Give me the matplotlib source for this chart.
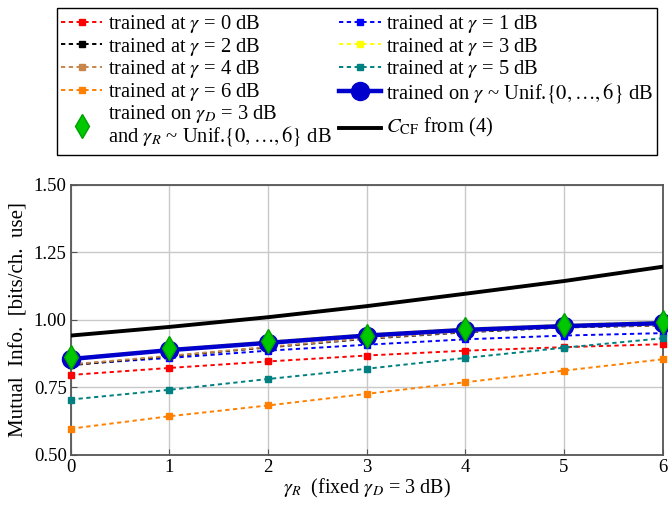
import matplotlib
matplotlib.use("Agg")
import matplotlib.pyplot as plt
import numpy as np

plt.rcParams['font.family'] = 'serif'
plt.rcParams['font.serif'] = ['Liberation Serif', 'DejaVu Serif']
plt.rcParams['mathtext.fontset'] = 'stix'

# valeurs
gamma_r = [0, 1, 2, 3, 4, 5, 6]
mi_g0 = [0.796, 0.822, 0.846, 0.868, 0.886, 0.899, 0.910]
mi_g1 = [0.835, 0.859, 0.886, 0.908, 0.928, 0.942, 0.951]
mi_g2 = [0.832, 0.865, 0.898, 0.930, 0.954, 0.972, 0.979]
mi_g3 = [0.858, 0.892, 0.920, 0.947, 0.968, 0.982, 0.994]
mi_g4 = [0.835, 0.867, 0.900, 0.932, 0.956, 0.974, 0.980]
mi_g5 = [0.705, 0.741, 0.781, 0.819, 0.859, 0.897, 0.932]
mi_g6 = [0.597, 0.643, 0.683, 0.726, 0.769, 0.812, 0.854]
mi_unif = [0.855, 0.888, 0.915, 0.942, 0.963, 0.977, 0.988]
mi_diam = [0.863, 0.895, 0.923, 0.942, 0.965, 0.982, 0.993]
c_cf = [0.942, 0.974, 1.010, 1.051, 1.097, 1.144, 1.197]

series = [
    (mi_g0, '#ff0000', 'trained at $\\gamma$ = 0 dB'),
    (mi_g1, '#0000ff', 'trained at $\\gamma$ = 1 dB'),
    (mi_g2, '#000000', 'trained at $\\gamma$ = 2 dB'),
    (mi_g3, '#ffff00', 'trained at $\\gamma$ = 3 dB'),
    (mi_g4, '#c8864a', 'trained at $\\gamma$ = 4 dB'),
    (mi_g5, '#008080', 'trained at $\\gamma$ = 5 dB'),
    (mi_g6, '#ff8000', 'trained at $\\gamma$ = 6 dB'),
]

fig = plt.figure(figsize=(6.68, 5.24), dpi=100)
ax = fig.add_axes([0.106, 0.132, 0.886, 0.515])

h = {}
for vals, col, lab in series:
    l, = ax.plot(gamma_r, vals, color=col, ls=(0, (2.2, 1.8)), lw=1.4,
                 marker='s', ms=5, label=lab, clip_on=False, zorder=3)
    h[lab] = l

l_cf, = ax.plot(gamma_r, c_cf, color='black', lw=2.8, label='$C_{\\mathrm{CF}}$ from (4)', zorder=4)
l_unif, = ax.plot(gamma_r, mi_unif, color='#0000cc', lw=3.2, marker='o', ms=13,
                  label='trained on $\\gamma$ ~ Unif.$\\{0,\\ldots,6\\}$ dB', clip_on=False, zorder=5)
l_diam, = ax.plot(gamma_r, mi_diam, ls='none', marker='d', ms=12, color='#00c800',
                  markeredgecolor='#00a000', clip_on=False, zorder=6,
                  label='trained on $\\gamma_D$ = 3 dB\nand $\\gamma_R$ ~ Unif.$\\{0,\\ldots,6\\}$ dB')

ax.set_xlim(0, 6)
ax.set_ylim(0.5, 1.5)
ax.set_xticks(gamma_r)
ax.set_yticks([0.5, 0.75, 1.0, 1.25, 1.5])
ax.set_yticklabels(['0.50', '0.75', '1.00', '1.25', '1.50'])
ax.tick_params(direction='in', labelsize=13.5, length=4, color='#555555', pad=3)
ax.grid(True, color='#c8c8c8', lw=1)
for s in ax.spines.values():
    s.set_color('#555555')
    s.set_linewidth(1.3)
ax.set_xlabel('$\\gamma_R$  (fixed $\\gamma_D$ = 3 dB)', fontsize=14.5, labelpad=1)
ax.set_ylabel('Mutual  Info.  [bits/ch.  use]', fontsize=15, labelpad=4)

labs = [s[2] for s in series]
handles = [h[labs[0]], h[labs[2]], h[labs[4]], h[labs[6]], l_diam,
           h[labs[1]], h[labs[3]], h[labs[5]], l_unif, l_cf]
leg_labels = [x.get_label() for x in handles]
# ligne vide autour de C_CF pour le centrer sur l'entree a deux lignes
leg_labels[-1] = ' \n' + leg_labels[-1] + '\n '
leg = fig.legend(handles=handles, labels=leg_labels, ncol=2,
                 loc='upper left', bbox_to_anchor=(0.085, 0.984), fontsize=14.8,
                 frameon=True, fancybox=False, edgecolor='black', framealpha=1,
                 handlelength=2.0, handletextpad=0.25, columnspacing=0.4,
                 labelspacing=0.03, borderpad=0.22, borderaxespad=0)
leg.get_frame().set_linewidth(1.0)
txts = leg.get_texts()
txts[4].set_linespacing(0.93)
txts[-1].set_linespacing(0.465)

fig.savefig('out.png', dpi=100)
